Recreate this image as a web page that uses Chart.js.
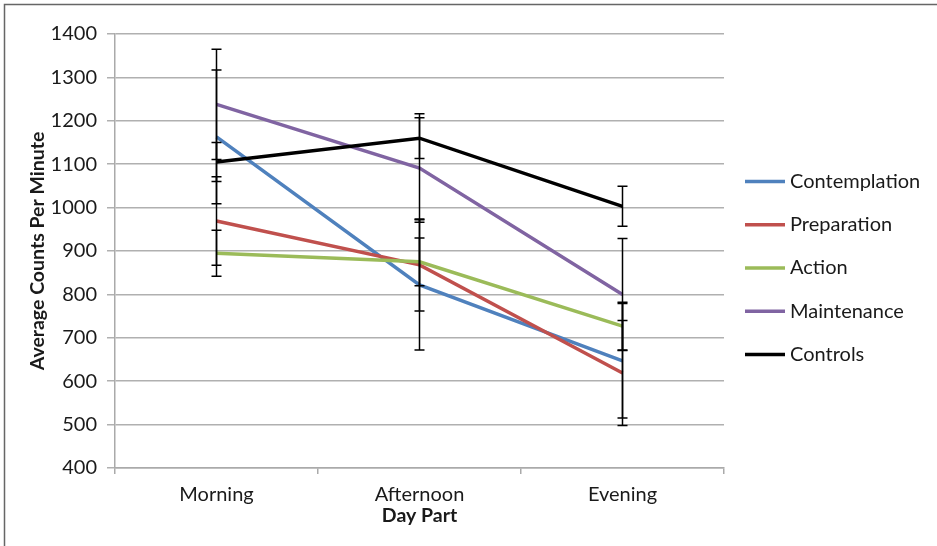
<!DOCTYPE html>
<html><head><meta charset="utf-8">
<script src="https://cdn.jsdelivr.net/npm/chart.js@4.4.0/dist/chart.umd.min.js"></script>
<style>html,body{margin:0;padding:0;background:#fff;} #wrap{width:937px;height:546px;position:relative;}</style>
</head><body><div id="wrap"><canvas id="c" width="937" height="546"></canvas></div>
<script>
const categories = ['Morning', 'Afternoon', 'Evening'];
const seriesNames = ['Contemplation', 'Preparation', 'Action', 'Maintenance', 'Controls'];
const contemplation = [1163, 822, 647];
const preparation = [969, 868, 619];
const action = [895, 875, 727];
const maintenance = [1238, 1091, 800];
const controls = [1105, 1160, 1003];
const contemplationErr = [154, 150, 132];
const preparationErr = [102, 106, 121];
const actionErr = [53, 55, 55];
const maintenanceErr = [127, 125, 129];
const controlsErr = [45, 47, 46];
const yTickValues = [400, 500, 600, 700, 800, 900, 1000, 1100, 1200, 1300, 1400];
const yTitle = 'Average Counts Per Minute';
const xTitle = 'Day Part';

const seriesValues = [contemplation, preparation, action, maintenance, controls];
const seriesErrors = [contemplationErr, preparationErr, actionErr, maintenanceErr, controlsErr];
const seriesColors = ['#4F81BD', '#C0504D', '#9BBB59', '#8064A2', '#000000'];

const FONT = 'Lato, "Noto Sans", sans-serif';
const TEXT = '#1a1a1a';

const errorBarPlugin = {
  id: 'errorBars',
  afterDatasetsDraw(chart) {
    const ctx = chart.ctx;
    const xs = chart.scales.x, ys = chart.scales.y;
    ctx.save();
    ctx.strokeStyle = '#000';
    ctx.lineWidth = 1.5;
    chart.data.datasets.forEach((ds, i) => {
      const errs = seriesErrors[i];
      ds.data.forEach((v, j) => {
        const x = xs.getPixelForValue(j);
        const yT = ys.getPixelForValue(v + errs[j]);
        const yB = ys.getPixelForValue(v - errs[j]);
        ctx.beginPath();
        ctx.moveTo(x, yT); ctx.lineTo(x, yB);
        ctx.moveTo(x - 5, yT); ctx.lineTo(x + 5, yT);
        ctx.moveTo(x - 5, yB); ctx.lineTo(x + 5, yB);
        ctx.stroke();
      });
    });
    ctx.restore();
  }
};

const framePlugin = {
  id: 'frame',
  beforeDraw(chart) {
    const ctx = chart.ctx;
    ctx.save();
    ctx.strokeStyle = '#666';
    ctx.lineWidth = 1.5;
    ctx.beginPath();
    ctx.moveTo(4.5, chart.height); ctx.lineTo(4.5, 4.5); ctx.lineTo(chart.width, 4.5);
    ctx.stroke();
    ctx.restore();
  }
};

const legendPlugin = {
  id: 'sideLegend',
  afterDraw(chart) {
    const ctx = chart.ctx;
    const ca = chart.chartArea;
    const ds = chart.data.datasets;
    const x0 = ca.right + 21;
    const cy = (ca.top + ca.bottom) / 2 + 17;
    const gap = 43.3;
    ctx.save();
    ctx.font = '20px ' + FONT;
    ctx.textBaseline = 'middle';
    ctx.textAlign = 'left';
    ds.forEach((d, i) => {
      const y = cy + (i - (ds.length - 1) / 2) * gap;
      ctx.strokeStyle = d.borderColor;
      ctx.lineWidth = 3.5;
      ctx.beginPath();
      ctx.moveTo(x0, y); ctx.lineTo(x0 + 40, y);
      ctx.stroke();
      ctx.fillStyle = TEXT;
      ctx.fillText(d.label, x0 + 45, y);
    });
    ctx.restore();
  }
};

new Chart(document.getElementById('c'), {
  type: 'line',
  data: {
    labels: categories,
    datasets: seriesNames.map((name, i) => ({
      label: name,
      data: seriesValues[i],
      borderColor: seriesColors[i],
      backgroundColor: seriesColors[i],
      borderWidth: 3.5,
      pointRadius: 0,
      tension: 0,
      order: -i
    }))
  },
  options: {
    responsive: false,
    devicePixelRatio: 1,
    animation: false,
    layout: { padding: { top: 34, left: 5, right: 213, bottom: 20.5 } },
    plugins: {
      legend: { display: false },
      tooltip: { enabled: false }
    },
    scales: {
      x: {
        offset: true,
        afterFit: s => { s.height = 57.5; },
        grid: { offset: true, drawOnChartArea: false, drawTicks: true, tickLength: 6, color: '#aaa', lineWidth: 1.5 },
        border: { color: '#aaa', width: 1.5 },
        ticks: { font: { family: FONT, size: 20, lineHeight: 1 }, color: TEXT, padding: 11 },
        title: { display: true, text: xTitle, font: { family: FONT, size: 19.5, weight: 'bold', lineHeight: 1 }, color: TEXT, padding: { top: 1, bottom: 0 } }
      },
      y: {
        min: 400, max: 1400,
        afterBuildTicks: s => { s.ticks = yTickValues.map(v => ({ value: v })); },
        afterFit: s => { s.width = 110; },
        grid: { color: '#b0b0b0', lineWidth: 1.5, tickLength: 8 },
        border: { color: '#aaa', width: 1.5 },
        ticks: { font: { family: FONT, size: 20 }, color: TEXT, padding: 10, callback: v => String(v) },
        title: { display: true, text: yTitle, font: { family: FONT, size: 19.5, weight: 'bold', lineHeight: 1 }, color: TEXT, padding: { top: 23, bottom: 0 } }
      }
    }
  },
  plugins: [errorBarPlugin, framePlugin, legendPlugin]
});
</script></body></html>
